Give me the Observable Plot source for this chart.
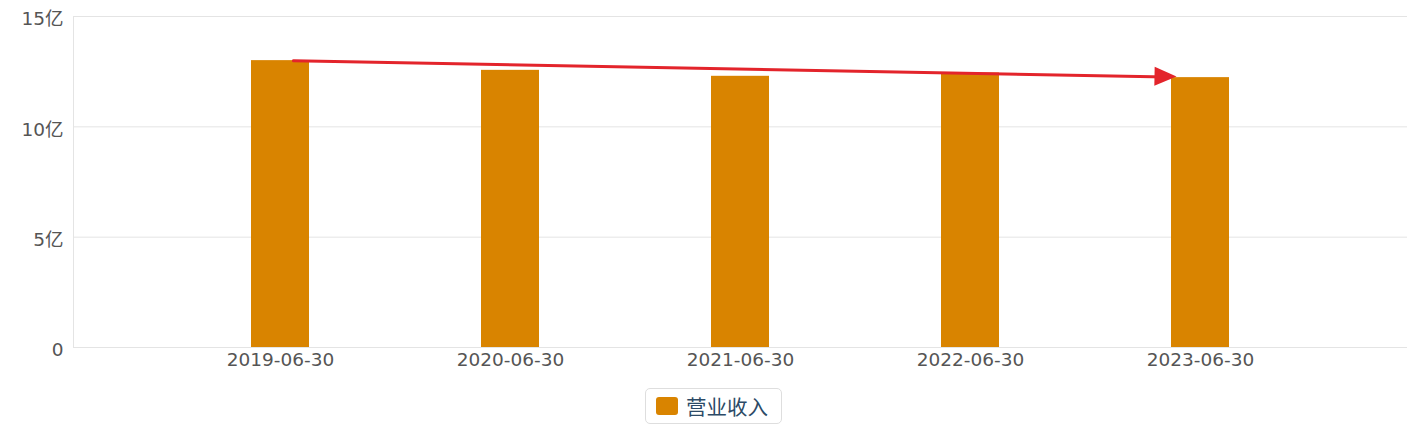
<!DOCTYPE html>
<html>
<head>
<meta charset="utf-8">
<script src="https://cdn.jsdelivr.net/npm/d3@7"></script>
<script src="https://cdn.jsdelivr.net/npm/@observablehq/plot@0.6"></script>
<style>
  html, body { margin: 0; padding: 0; background: #fff; }
  body { width: 1407px; height: 429px; position: relative; overflow: hidden;
         font-family: "Noto Sans CJK SC", "Noto Sans", sans-serif; }
  #chart { position: absolute; left: 0; top: 0; }
  #legend { position: absolute; left: 645px; top: 388px; box-sizing: border-box;
            width: 137px; height: 36px; border: 1px solid #dedede; border-radius: 5px;
            display: flex; align-items: center; padding-left: 10px; gap: 8px;
            font-size: 20.5px; color: #2c4a66; background: #fff; }
  #legend .swatch { width: 22px; height: 18px; border-radius: 3px; flex: none; }
</style>
</head>
<body>
<div id="chart"></div>
<div id="legend"></div>
<script>
// Half-year report dates and operating revenue (亿元)
const periods = ["2019-06-30", "2020-06-30", "2021-06-30", "2022-06-30", "2023-06-30"];
const revenue = [13.0, 12.56, 12.29, 12.44, 12.23];
const yTicks = [0, 5, 10, 15];
const seriesName = "营业收入";

const barColor = "#d98400";
const arrowColor = "#e3242b";

const data = periods.map((period, i) => ({period, value: revenue[i]}));
const first = data[0];
const last = data[data.length - 1];

// Filled arrowhead whose tip sits at the symbol origin, pointing right
const arrowHead = {
  draw(context) {
    context.moveTo(0, 0);
    context.lineTo(-22, -9.5);
    context.lineTo(-22, 9.5);
    context.closePath();
  }
};

const trendAngle = 1.05;

const chart = Plot.plot({
  width: 1407,
  height: 375,
  marginTop: 16,
  marginBottom: 28,
  marginLeft: 73,
  marginRight: 0,
  style: {fontFamily: '"DejaVu Sans", "Noto Sans CJK SC", sans-serif', fontSize: "18.5px", color: "#555", background: "#fff", overflow: "visible"},
  x: {type: "band", domain: periods, paddingInner: 0.748, paddingOuter: 0.771, label: null},
  y: {domain: [0, 15], label: null},
  marks: [
    Plot.gridY(yTicks, {stroke: "#e4e4e4", strokeOpacity: 1}),
    Plot.ruleX([0], {x: () => periods[0], dx: -207, y1: 0, y2: 15, stroke: "#e4e4e4"}),
    Plot.barY(data, {x: "period", y: "value", fill: barColor}),
    Plot.axisX({tickSize: 0, tickPadding: 5, fill: "#555"}),
    Plot.axisY({ticks: yTicks, tickSize: 0, tickPadding: 10, dy: 3, fill: "#555",
                tickFormat: d => d === 0 ? "0" : `${d}亿`}),
    // downward trend arrow from the first to the last period
    Plot.arrow([{a: first, b: last}], {
      x1: d => d.a.period, y1: d => d.a.value,
      x2: d => d.b.period, y2: d => d.b.value,
      stroke: arrowColor, strokeWidth: 3, headLength: 0,
      insetStart: 13, insetEnd: 34
    }),
    Plot.dot([last], {x: "period", y: "value", symbol: arrowHead, r: 10,
                      fill: arrowColor, stroke: "none", dx: -24, dy: -1, rotate: trendAngle})
  ]
});
document.getElementById("chart").append(chart);

// Legend below the chart
const legend = document.getElementById("legend");
const sw = document.createElement("span");
sw.className = "swatch";
sw.style.background = barColor;
const label = document.createElement("span");
label.textContent = seriesName;
legend.append(sw, label);
</script>
</body>
</html>
